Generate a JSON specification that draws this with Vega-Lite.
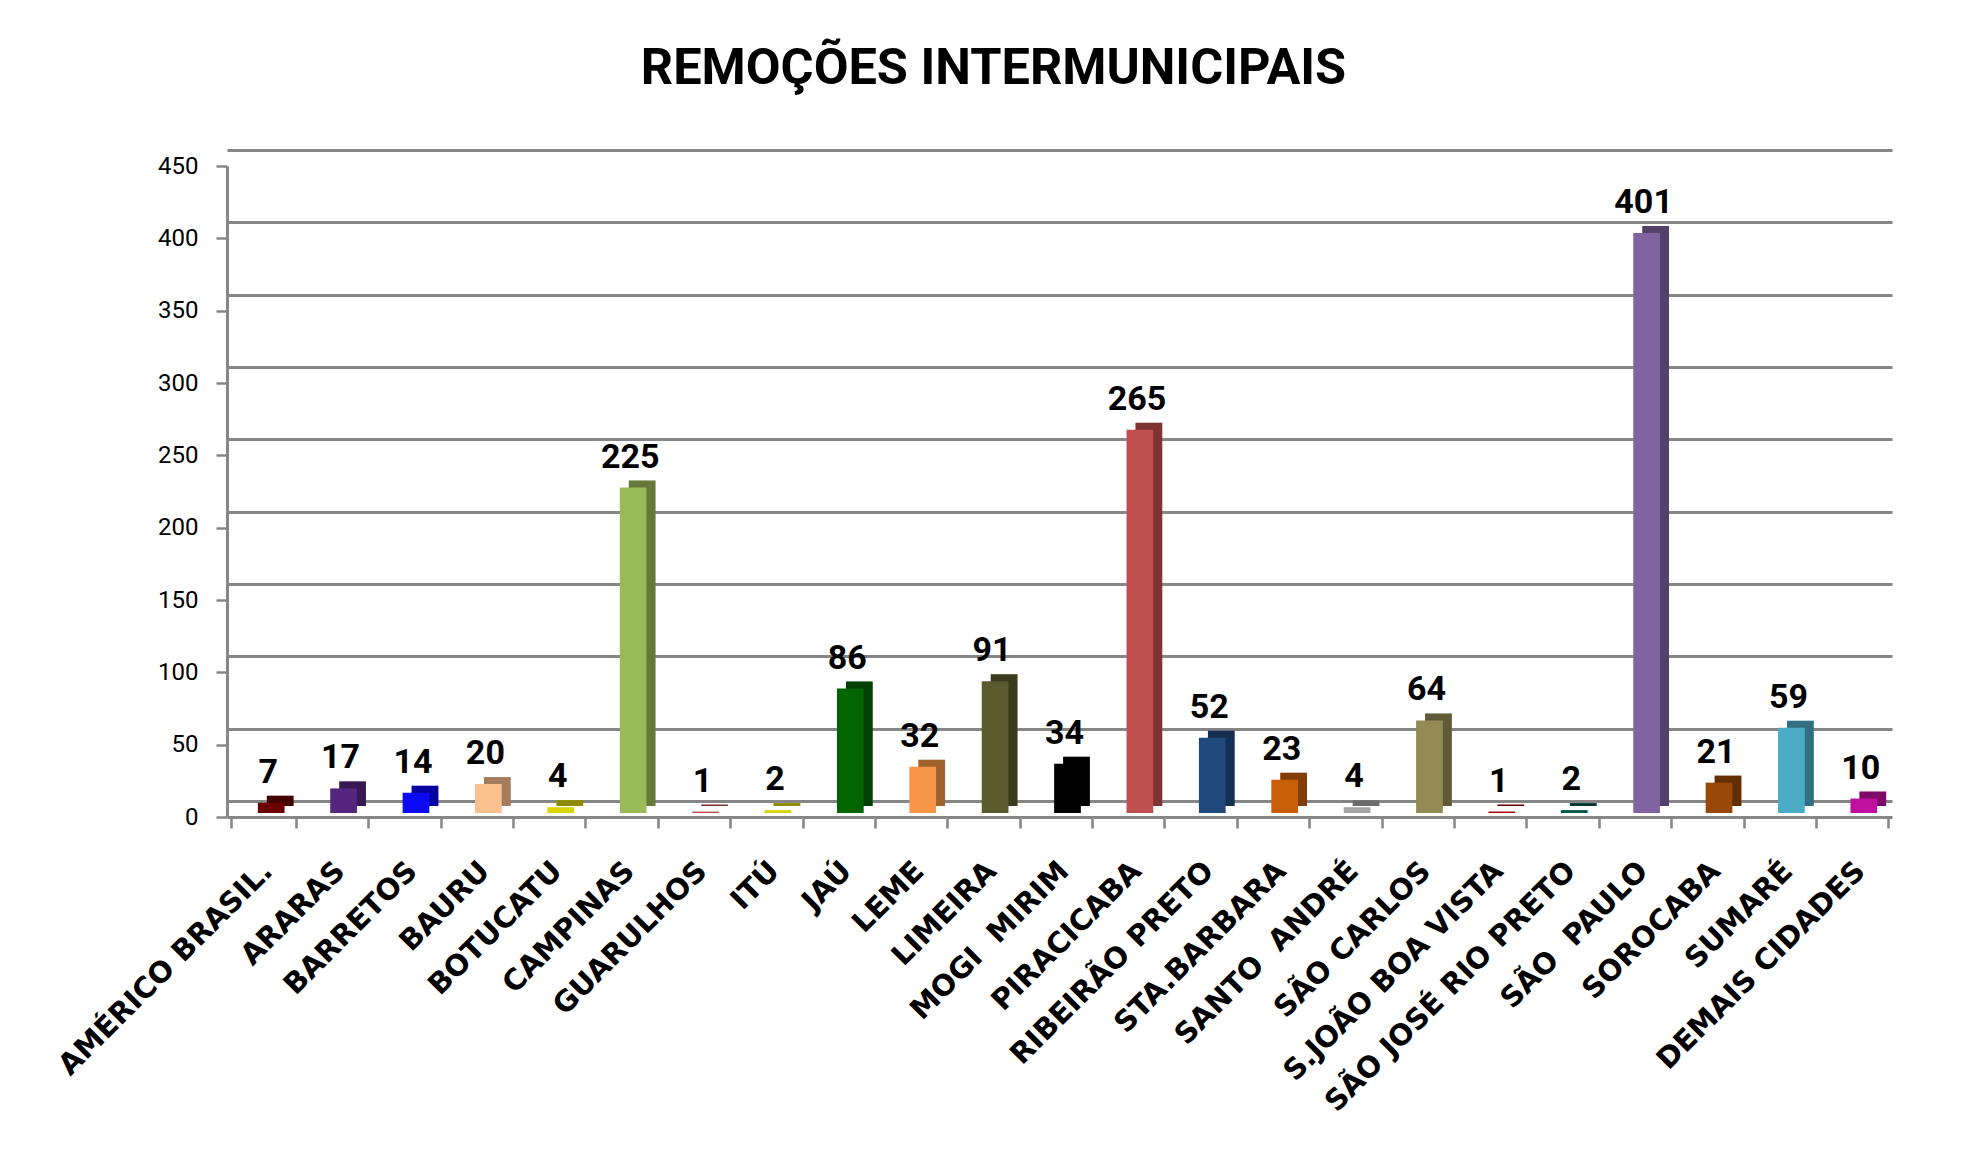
{
  "$schema": "https://vega.github.io/schema/vega-lite/v6.json",
  "width": 1665,
  "height": 651,
  "autosize": {"type": "none"},
  "padding": {"left": 227, "top": 166, "right": 95, "bottom": 336},
  "background": "white",
  "title": {
    "text": "REMOÇÕES INTERMUNICIPAIS",
    "font": "Roboto",
    "fontSize": 50.5,
    "fontWeight": "bold",
    "color": "black",
    "anchor": "middle",
    "frame": "group",
    "baseline": "alphabetic",
    "offset": 20,
    "dx": -66
  },
  "data": {
    "values": [
      {"cidade": "AMÉRICO BRASIL.", "valor": 7},
      {"cidade": "ARARAS", "valor": 17},
      {"cidade": "BARRETOS", "valor": 14},
      {"cidade": "BAURU", "valor": 20},
      {"cidade": "BOTUCATU", "valor": 4},
      {"cidade": "CAMPINAS", "valor": 225},
      {"cidade": "GUARULHOS", "valor": 1},
      {"cidade": "ITÚ", "valor": 2},
      {"cidade": "JAÚ", "valor": 86},
      {"cidade": "LEME", "valor": 32},
      {"cidade": "LIMEIRA", "valor": 91},
      {"cidade": "MOGI  MIRIM", "valor": 34},
      {"cidade": "PIRACICABA", "valor": 265},
      {"cidade": "RIBEIRÃO PRETO", "valor": 52},
      {"cidade": "STA.BARBARA", "valor": 23},
      {"cidade": "SANTO  ANDRÉ", "valor": 4},
      {"cidade": "SÃO CARLOS", "valor": 64},
      {"cidade": "S.JOÃO BOA VISTA", "valor": 1},
      {"cidade": "SÃO JOSÉ RIO PRETO", "valor": 2},
      {"cidade": "SÃO  PAULO", "valor": 401},
      {"cidade": "SOROCABA", "valor": 21},
      {"cidade": "SUMARÉ", "valor": 59},
      {"cidade": "DEMAIS CIDADES", "valor": 10}
    ]
  },
  "encoding": {
    "x": {
      "field": "cidade",
      "type": "nominal",
      "sort": null,
      "axis": {
        "title": null,
        "tickBand": "extent",
        "domainColor": "#868686",
        "domainWidth": 3,
        "tickColor": "#868686",
        "tickWidth": 2.5,
        "tickSize": 11,
        "labelAngle": -45,
        "labelAlign": "right",
        "labelBaseline": "middle",
        "labelFont": "DejaVu Sans",
        "labelFontWeight": "bold",
        "labelFontSize": 29,
        "labelColor": "black",
        "labelPadding": 38,
        "labelOffset": 4,
        "labelLimit": 600,
        "labelExpr": "replace(datum.label, '  ', '\u00a0 ')",
        "grid": false
      }
    }
  },
  "layer": [
    {
      "mark": {"type": "bar", "opacity": 0},
      "encoding": {
        "y": {
          "field": "valor",
          "type": "quantitative",
          "scale": {"domain": [0, 450], "range": [635, -16]},
          "axis": {
            "orient": "left",
            "values": [0, 50, 100, 150, 200, 250, 300, 350, 400, 450],
            "grid": true,
            "gridColor": "#868686",
            "gridWidth": 3,
            "labels": false,
            "ticks": false,
            "domain": false,
            "title": null
          }
        }
      }
    },
    {
      "encoding": {
        "y": {
          "field": "valor",
          "type": "quantitative",
          "scale": {"domain": [0, 450]},
          "axis": {
            "orient": "left",
            "values": [0, 50, 100, 150, 200, 250, 300, 350, 400, 450],
            "title": null,
            "grid": false,
            "domainColor": "#868686",
            "domainWidth": 3,
            "tickColor": "#868686",
            "tickWidth": 2.5,
            "tickSize": 11,
            "labelFont": "Roboto",
            "labelFontSize": 24,
            "labelColor": "black",
            "labelPadding": 18
          }
        },
        "color": {
          "field": "cidade",
          "type": "nominal",
          "legend": null,
          "scale": {
            "domain": ["AMÉRICO BRASIL.", "ARARAS", "BARRETOS", "BAURU", "BOTUCATU", "CAMPINAS", "GUARULHOS", "ITÚ", "JAÚ", "LEME", "LIMEIRA", "MOGI  MIRIM", "PIRACICABA", "RIBEIRÃO PRETO", "STA.BARBARA", "SANTO  ANDRÉ", "SÃO CARLOS", "S.JOÃO BOA VISTA", "SÃO JOSÉ RIO PRETO", "SÃO  PAULO", "SOROCABA", "SUMARÉ", "DEMAIS CIDADES"],
            "range": ["#6A0000", "#56257E", "#0A0AF5", "#FAC090", "#DCD600", "#9BBB59", "#C0504D", "#D8D400", "#006400", "#F79646", "#5A5A2E", "#000000", "#C0504D", "#1F497D", "#C85F08", "#A6A6A6", "#948A54", "#A80000", "#00574B", "#8064A2", "#984807", "#4BACC6", "#C010A0"]
          }
        }
      },
      "layer": [
        {
          "mark": {"type": "bar", "width": {"band": 0.41}, "xOffset": 17, "yOffset": -11, "y2Offset": -11}
        },
        {
          "mark": {"type": "bar", "width": {"band": 0.41}, "xOffset": 17, "yOffset": -11, "y2Offset": -11, "opacity": 0.35},
          "encoding": {"color": {"value": "black"}}
        },
        {
          "mark": {"type": "bar", "width": {"band": 0.41}, "xOffset": 8, "yOffset": -4, "y2Offset": -4}
        },
        {
          "mark": {"type": "text", "font": "Roboto", "fontSize": 34, "fontWeight": "bold", "baseline": "alphabetic", "dy": -24, "dx": 5},
          "encoding": {
            "text": {"field": "valor", "type": "quantitative"},
            "color": {"value": "black"}
          }
        }
      ]
    }
  ],
  "resolve": {"scale": {"y": "independent"}, "axis": {"y": "independent"}},
  "config": {"view": {"stroke": null}}
}
